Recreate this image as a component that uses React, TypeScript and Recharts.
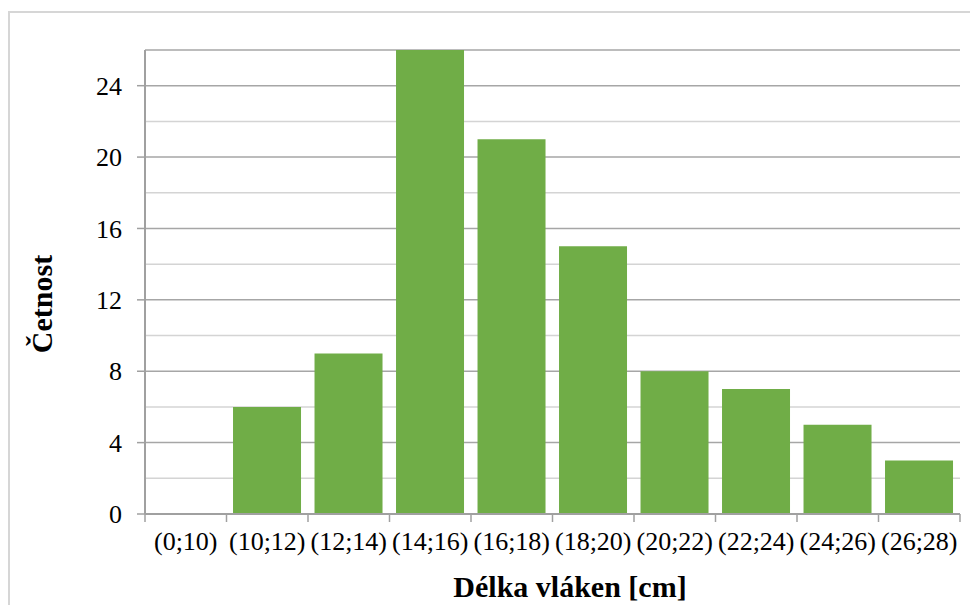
import React from 'react';
import { BarChart, Bar, XAxis, YAxis, CartesianGrid, Label } from 'recharts';

const categories = ['(0;10)', '(10;12)', '(12;14)', '(14;16)', '(16;18)', '(18;20)', '(20;22)', '(22;24)', '(24;26)', '(26;28)'];
const counts = [0, 6, 9, 26, 21, 15, 8, 7, 5, 3];
const yTicks = [0, 4, 8, 12, 16, 20, 24];
const majorGrid = [4, 8, 12, 16, 20, 24, 26];
const minorGrid = [2, 6, 10, 14, 18, 22];

const data = categories.map((c, i) => ({ cat: c, value: counts[i] }));

const W = 970;
const H = 597;
const MARGIN = { top: 42, right: 18, left: 0, bottom: 0 };
const Y_AXIS_W = 137;
const X_AXIS_H = 91;
const PLOT_W = W - MARGIN.left - MARGIN.right - Y_AXIS_W;
const PLOT_BOTTOM = H - MARGIN.bottom - X_AXIS_H;
const BAND = PLOT_W / categories.length;
const FONT = '"Liberation Serif", "Times New Roman", serif';
const AXIS_COLOR = '#a0a0a0';

const XTick = (props: any) => {
  const { x, index, payload } = props;
  const half = BAND / 2;
  return (
    <g>
      <line x1={x - half} x2={x - half} y1={PLOT_BOTTOM} y2={PLOT_BOTTOM + 8} stroke={AXIS_COLOR} strokeWidth={1.5} />
      {index === categories.length - 1 && (
        <line x1={x + half} x2={x + half} y1={PLOT_BOTTOM} y2={PLOT_BOTTOM + 8} stroke={AXIS_COLOR} strokeWidth={1.5} />
      )}
      <text x={x} y={PLOT_BOTTOM + 36} textAnchor="middle" fontSize={26} fontFamily={FONT} fill="#000">
        {payload.value}
      </text>
    </g>
  );
};

export default function App() {
  return (
    <div style={{ position: 'relative', width: W, height: H }}>
      <div
        style={{
          position: 'absolute',
          left: 0,
          top: 3,
          width: W + 20,
          height: H + 20,
          borderLeft: '2px solid #d6d6d6',
          borderTop: '2px solid #d6d6d6',
          boxSizing: 'border-box',
        }}
      />
      <div style={{ position: 'absolute', left: 0, top: 0 }}>
        <BarChart width={W} height={H} data={data} margin={MARGIN} barCategoryGap="8%">
          <CartesianGrid horizontalValues={minorGrid} vertical={false} stroke="#d4d4d4" strokeWidth={1.5} />
          <CartesianGrid horizontalValues={majorGrid} vertical={false} stroke="#a6a6a6" strokeWidth={1.5} />
          <XAxis
            dataKey="cat"
            height={X_AXIS_H}
            interval={0}
            tickLine={false}
            axisLine={{ stroke: AXIS_COLOR, strokeWidth: 2 }}
            tick={<XTick />}
          >
            <Label
              content={() => (
                <text x={562} y={589} textAnchor="middle" fontSize={30} fontWeight="bold" fontFamily={FONT} fill="#000">
                  Délka vláken [cm]
                </text>
              )}
            />
          </XAxis>
          <YAxis
            width={Y_AXIS_W}
            domain={[0, 26]}
            ticks={yTicks}
            interval={0}
            tickSize={8}
            tickMargin={15}
            tickLine={{ stroke: AXIS_COLOR, strokeWidth: 1.5 }}
            axisLine={{ stroke: AXIS_COLOR, strokeWidth: 2 }}
            tick={{ fontSize: 26, fontFamily: FONT, fill: '#000' }}
          >
            <Label
              content={() => (
                <text
                  x={44}
                  y={296}
                  transform="rotate(-90 44 296)"
                  textAnchor="middle"
                  fontSize={30}
                  fontWeight="bold"
                  fontFamily={FONT}
                  fill="#000"
                >
                  Četnost
                </text>
              )}
            />
          </YAxis>
          <YAxis
            yAxisId="right"
            orientation="right"
            width={0}
            tick={false}
            tickLine={false}
            axisLine={{ stroke: AXIS_COLOR, strokeWidth: 2 }}
          />
          <Bar dataKey="value" fill="#70ad47" isAnimationActive={false} />
        </BarChart>
      </div>
    </div>
  );
}
